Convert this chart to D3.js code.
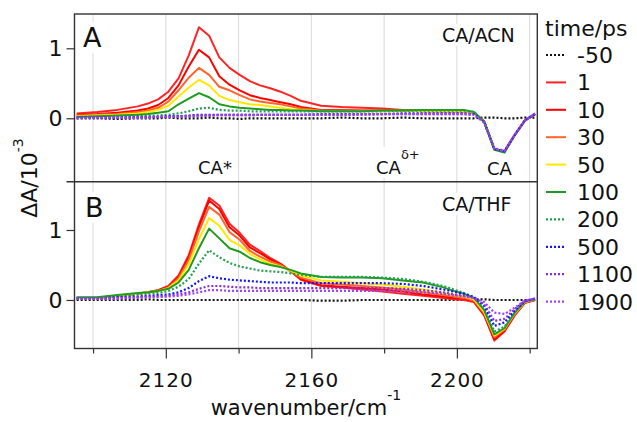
<!DOCTYPE html>
<html><head><meta charset="utf-8">
<script src="https://cdn.jsdelivr.net/npm/d3@7"></script>
<style>
body{margin:0;background:#fff}
svg{display:block;font-family:"DejaVu Sans",sans-serif}
</style>
</head><body>
<svg id="chart" width="637" height="422"></svg>
<script>
// Probe wavenumbers (cm^-1)
const wavenumber = [2095.5,2101.1,2106.7,2112.3,2115.1,2117.9,2120.7,2123.5,2126.3,2129.1,
  2131.9,2134.7,2137.5,2140.3,2143.1,2145.9,2148.7,2151.5,2154.3,2157.1,
  2162.7,2168.3,2173.9,2179.5,2185.1,2190.7,2196.3,2199.1,2201.9,2204.7,
  2207.5,2210.3,2213.1,2215.9,2218.7,2221.5];

const delays = ["-50","1","10","30","50","100","200","500","1100","1900"];
const delayColors = ["#111111","#ff2424","#ff0000","#ff6428","#ffe800","#1e9b1e","#22a050","#1414ff","#8a2be2","#9a44f0"];
const delayDotted = [true,false,false,false,false,false,true,true,true,true];

// Panel A: CA in acetonitrile, dA / 1e-3
const acn_m50 = [0.00,0.00,-0.01,0.00,0.00,0.00,0.01,0.00,0.00,0.00, 0.01,0.00,0.00,-0.01,0.00,0.00,0.00,0.00,0.00,0.00, 0.00,0.01,0.00,0.00,0.01,0.00,0.00,0.00,0.00,0.00, 0.01,0.01,0.00,0.00,0.01,0.01];
const acn_1    = [0.07,0.09,0.12,0.17,0.21,0.27,0.38,0.57,0.90,1.30, 1.18,0.87,0.72,0.62,0.53,0.47,0.43,0.38,0.32,0.25, 0.18,0.16,0.15,0.14,0.12,0.11,0.10,0.10,0.10,0.08, -0.04,-0.44,-0.47,-0.24,-0.03,0.06];
const acn_10   = [0.05,0.06,0.08,0.11,0.14,0.19,0.29,0.47,0.74,0.98, 0.87,0.60,0.48,0.40,0.33,0.29,0.26,0.23,0.20,0.16, 0.12,0.12,0.11,0.11,0.11,0.10,0.10,0.10,0.10,0.08, -0.05,-0.44,-0.47,-0.24,-0.03,0.06];
const acn_30   = [0.04,0.05,0.06,0.09,0.11,0.15,0.24,0.40,0.58,0.72, 0.62,0.45,0.40,0.33,0.27,0.24,0.22,0.20,0.17,0.14, 0.11,0.11,0.11,0.11,0.11,0.10,0.10,0.10,0.10,0.08, -0.05,-0.44,-0.47,-0.24,-0.03,0.06];
const acn_50   = [0.03,0.04,0.05,0.07,0.09,0.12,0.18,0.31,0.44,0.55, 0.47,0.32,0.26,0.23,0.20,0.19,0.17,0.15,0.13,0.12, 0.10,0.10,0.10,0.10,0.10,0.10,0.10,0.10,0.10,0.08, -0.05,-0.44,-0.48,-0.24,-0.03,0.06];
const acn_100  = [0.02,0.03,0.04,0.05,0.06,0.08,0.10,0.20,0.28,0.36, 0.30,0.20,0.17,0.15,0.14,0.13,0.12,0.12,0.11,0.11, 0.10,0.10,0.10,0.11,0.11,0.12,0.12,0.12,0.12,0.09, -0.05,-0.45,-0.49,-0.24,-0.03,0.06];
const acn_200  = [0.02,0.02,0.03,0.03,0.04,0.04,0.05,0.07,0.10,0.14, 0.15,0.12,0.11,0.11,0.10,0.10,0.10,0.10,0.10,0.10, 0.10,0.10,0.10,0.10,0.11,0.11,0.11,0.11,0.11,0.09, -0.05,-0.44,-0.48,-0.24,-0.03,0.06];
const acn_500  = [0.01,0.01,0.01,0.02,0.02,0.02,0.03,0.03,0.04,0.05, 0.05,0.05,0.05,0.05,0.05,0.05,0.05,0.05,0.05,0.05, 0.06,0.06,0.06,0.06,0.07,0.07,0.07,0.07,0.07,0.06, -0.05,-0.44,-0.47,-0.24,-0.03,0.06];
const acn_1100 = [0.01,0.01,0.01,0.01,0.02,0.02,0.02,0.03,0.03,0.04, 0.04,0.05,0.05,0.05,0.05,0.05,0.05,0.05,0.05,0.05, 0.05,0.05,0.06,0.06,0.06,0.06,0.06,0.06,0.06,0.05, -0.06,-0.44,-0.47,-0.24,-0.03,0.07];
const acn_1900 = [0.00,0.01,0.01,0.01,0.01,0.02,0.02,0.02,0.03,0.03, 0.04,0.04,0.04,0.04,0.04,0.05,0.05,0.05,0.05,0.05, 0.05,0.05,0.05,0.06,0.06,0.06,0.06,0.06,0.06,0.05, -0.06,-0.43,-0.46,-0.23,-0.03,0.07];

// Panel B: CA in tetrahydrofuran, dA / 1e-3
const thf_m50 = [0.00,0.00,0.00,0.00,0.01,0.00,0.00,0.00,0.00,0.00, 0.00,0.00,0.00,0.00,0.00,0.00,0.00,0.00,0.00,0.00, -0.01,-0.01,0.00,0.00,0.00,0.00,0.00,0.00,0.00,0.01, 0.01,0.00,0.00,0.00,0.00,0.00];
const thf_1    = [0.03,0.03,0.06,0.09,0.11,0.14,0.20,0.35,0.64,1.08, 1.46,1.35,1.09,0.96,0.79,0.70,0.60,0.52,0.41,0.29, 0.20,0.18,0.15,0.12,0.09,0.06,0.03,0.01,0.00,-0.03, -0.22,-0.58,-0.45,-0.22,-0.04,0.00];
const thf_10   = [0.03,0.03,0.06,0.09,0.11,0.14,0.19,0.33,0.61,1.04, 1.42,1.30,1.04,0.92,0.75,0.67,0.58,0.51,0.41,0.30, 0.21,0.19,0.17,0.15,0.12,0.08,0.05,0.03,0.02,-0.02, -0.21,-0.56,-0.44,-0.21,-0.04,0.00];
const thf_30   = [0.03,0.03,0.06,0.09,0.11,0.13,0.18,0.31,0.57,0.98, 1.33,1.22,0.97,0.86,0.70,0.62,0.55,0.50,0.41,0.32, 0.24,0.22,0.20,0.18,0.15,0.11,0.07,0.05,0.03,-0.01, -0.19,-0.53,-0.42,-0.20,-0.03,0.00];
const thf_50   = [0.03,0.03,0.06,0.09,0.11,0.13,0.17,0.28,0.51,0.87, 1.17,1.06,0.86,0.78,0.66,0.58,0.52,0.48,0.42,0.35, 0.28,0.26,0.24,0.22,0.19,0.15,0.10,0.07,0.05,0.01, -0.17,-0.51,-0.41,-0.19,-0.03,0.01];
const thf_100  = [0.04,0.04,0.07,0.10,0.11,0.13,0.16,0.25,0.43,0.74, 1.02,0.88,0.74,0.69,0.60,0.54,0.50,0.47,0.43,0.38, 0.33,0.32,0.32,0.31,0.28,0.25,0.18,0.13,0.09,0.03, -0.14,-0.49,-0.40,-0.18,-0.02,0.01];
const thf_200  = [0.03,0.03,0.05,0.08,0.09,0.10,0.13,0.19,0.30,0.52, 0.71,0.61,0.53,0.48,0.45,0.42,0.41,0.40,0.38,0.36, 0.33,0.33,0.33,0.32,0.30,0.26,0.20,0.15,0.10,0.04, -0.12,-0.45,-0.38,-0.17,-0.02,0.01];
const thf_500  = [0.02,0.02,0.04,0.05,0.06,0.07,0.08,0.11,0.17,0.27, 0.34,0.31,0.29,0.28,0.27,0.26,0.25,0.25,0.25,0.24, 0.24,0.24,0.24,0.24,0.23,0.20,0.15,0.12,0.09,0.04, -0.08,-0.37,-0.32,-0.15,-0.02,0.02];
const thf_1100 = [0.02,0.02,0.03,0.04,0.05,0.05,0.06,0.08,0.11,0.16, 0.20,0.20,0.19,0.18,0.18,0.17,0.17,0.17,0.17,0.17, 0.17,0.17,0.17,0.17,0.16,0.14,0.11,0.08,0.06,0.03, -0.06,-0.30,-0.27,-0.13,-0.01,0.02];
const thf_1900 = [0.02,0.02,0.02,0.03,0.04,0.04,0.05,0.06,0.08,0.11, 0.14,0.14,0.13,0.13,0.13,0.13,0.13,0.13,0.13,0.13, 0.13,0.13,0.13,0.13,0.12,0.11,0.09,0.07,0.05,0.03, -0.03,-0.18,-0.20,-0.11,-0.01,0.02];

const acnSeries = [acn_m50,acn_1,acn_10,acn_30,acn_50,acn_100,acn_200,acn_500,acn_1100,acn_1900];
const thfSeries = [thf_m50,thf_1,thf_10,thf_30,thf_50,thf_100,thf_200,thf_500,thf_1100,thf_1900];

const xTicksMajor = [2120,2160,2200];
const xTicksMinor = [2100,2140,2180,2220];
const gridValues = [2100,2120,2140,2160,2180,2200,2220];
const yTickValues = [0,1];

const svg = d3.select("#chart");
const left = 74.5, right = 537.3, topA = 14, mid = 181.7, bottom = 348.5;
const frameColor = "#333";

const x = d3.scaleLinear().domain([2094.9, 2222.1]).range([left, right]);
const yA = d3.scaleLinear().domain([-0.906, 1.49]).range([mid, topA]);
const yB = d3.scaleLinear().domain([-0.693, 1.69]).range([bottom, mid]);

function drawPanel(y, y0, y1, series, clipId) {
  const g = svg.append("g");
  // vertical grid
  g.selectAll("line.grid").data(gridValues).join("line")
    .attr("x1", d => x(d)).attr("x2", d => x(d))
    .attr("y1", y0).attr("y2", y1)
    .attr("stroke", "#dadada").attr("stroke-width", 1);
  g.append("clipPath").attr("id", clipId).append("rect")
    .attr("x", left).attr("y", y0).attr("width", right - left).attr("height", y1 - y0);
  const line = d3.line().x((d, i) => x(wavenumber[i])).y(d => y(d));
  g.append("g").attr("clip-path", `url(#${clipId})`)
    .selectAll("path").data(series).join("path")
    .attr("d", d => line(d))
    .attr("fill", "none")
    .attr("stroke", (d, i) => delayColors[i])
    .attr("stroke-width", (d, i) => delayDotted[i] ? 2.2 : 2)
    .attr("stroke-dasharray", (d, i) => delayDotted[i] ? "2,2" : null)
    .attr("stroke-linejoin", "round");
  // left axis
  const ax = g.append("g").attr("transform", `translate(${left},0)`)
    .call(d3.axisLeft(y).tickValues(yTickValues).tickSize(8).tickPadding(4).tickFormat(d3.format("d")));
  ax.select(".domain").remove();
  ax.selectAll("line").attr("stroke", frameColor).attr("stroke-width", 1.2);
  ax.selectAll("text").attr("font-size", 22).attr("fill", "#111").attr("font-family", "DejaVu Sans");
  return g;
}

drawPanel(yA, topA, mid, acnSeries, "clipA");
drawPanel(yB, mid, bottom, thfSeries, "clipB");

// frames
svg.append("rect").attr("x", left).attr("y", topA).attr("width", right - left).attr("height", bottom - topA)
  .attr("fill", "none").attr("stroke", frameColor).attr("stroke-width", 1.4);
svg.append("line").attr("x1", left - 8).attr("x2", right).attr("y1", mid).attr("y2", mid)
  .attr("stroke", frameColor).attr("stroke-width", 1.4);

// bottom axis
const bx = svg.append("g").attr("transform", `translate(0,${bottom})`)
  .call(d3.axisBottom(x).tickValues(xTicksMajor).tickSize(10).tickPadding(14).tickFormat(d3.format("d")));
bx.select(".domain").remove();
bx.selectAll("line").attr("stroke", frameColor).attr("stroke-width", 1.2);
bx.selectAll("text").attr("font-size", 20).attr("fill", "#111").attr("font-family", "DejaVu Sans").attr("letter-spacing", 1);
const bxm = svg.append("g").attr("transform", `translate(0,${bottom})`)
  .call(d3.axisBottom(x).tickValues(xTicksMinor).tickSize(5).tickFormat(""));
bxm.select(".domain").remove();
bxm.selectAll("line").attr("stroke", frameColor).attr("stroke-width", 1.2);

// axis titles
const xt = svg.append("text").attr("x", (left + right) / 2).attr("y", 415)
  .attr("text-anchor", "middle").attr("font-size", 21).attr("fill", "#111");
xt.append("tspan").text("wavenumber/cm");
xt.append("tspan").attr("font-size", 14).attr("dy", -15).text("-1");

const yt = svg.append("text").attr("transform", `translate(37,178) rotate(-90)`)
  .attr("text-anchor", "middle").attr("font-size", 22).attr("fill", "#111");
yt.append("tspan").text("\u0394A/10");
yt.append("tspan").attr("font-size", 14).attr("dy", -14).text("-3");

// labels inside panels, with white backing
function label(txt, xpos, ypos, size, sup) {
  const g = svg.append("g");
  const t = g.append("text").attr("x", xpos).attr("y", ypos).attr("font-size", size).attr("fill", "#111");
  t.append("tspan").text(txt);
  if (sup) t.append("tspan").attr("font-size", 13).attr("dy", -15).text(sup);
  const bb = t.node().getBBox();
  g.insert("rect", "text").attr("x", bb.x - 1).attr("y", bb.y).attr("width", bb.width + 2).attr("height", bb.height)
    .attr("fill", "#fff");
}
label("A", 83, 47, 27);
label("B", 85, 217, 27);
label("CA/ACN", 442, 42, 19);
label("CA/THF", 442, 211, 19);
label("CA*", 198, 174, 18);
label("CA", 376, 174, 18, "\u03b4+");
label("CA", 487, 175, 18);

// legend
const lg = svg.append("g");
lg.append("text").attr("x", 545).attr("y", 36).attr("font-size", 22).attr("fill", "#111").text("time/ps");
const rowY = i => 55 + i * 27.4;
delays.forEach((d, i) => {
  lg.append("line").attr("x1", 546).attr("x2", 566).attr("y1", rowY(i)).attr("y2", rowY(i))
    .attr("stroke", delayColors[i]).attr("stroke-width", delayDotted[i] ? 2.2 : 2)
    .attr("stroke-dasharray", delayDotted[i] ? "2,2" : null);
  lg.append("text").attr("x", 577).attr("y", rowY(i)).attr("dy", "0.36em")
    .attr("font-size", 22).attr("fill", "#111").text(d);
});
</script>
</body></html>
